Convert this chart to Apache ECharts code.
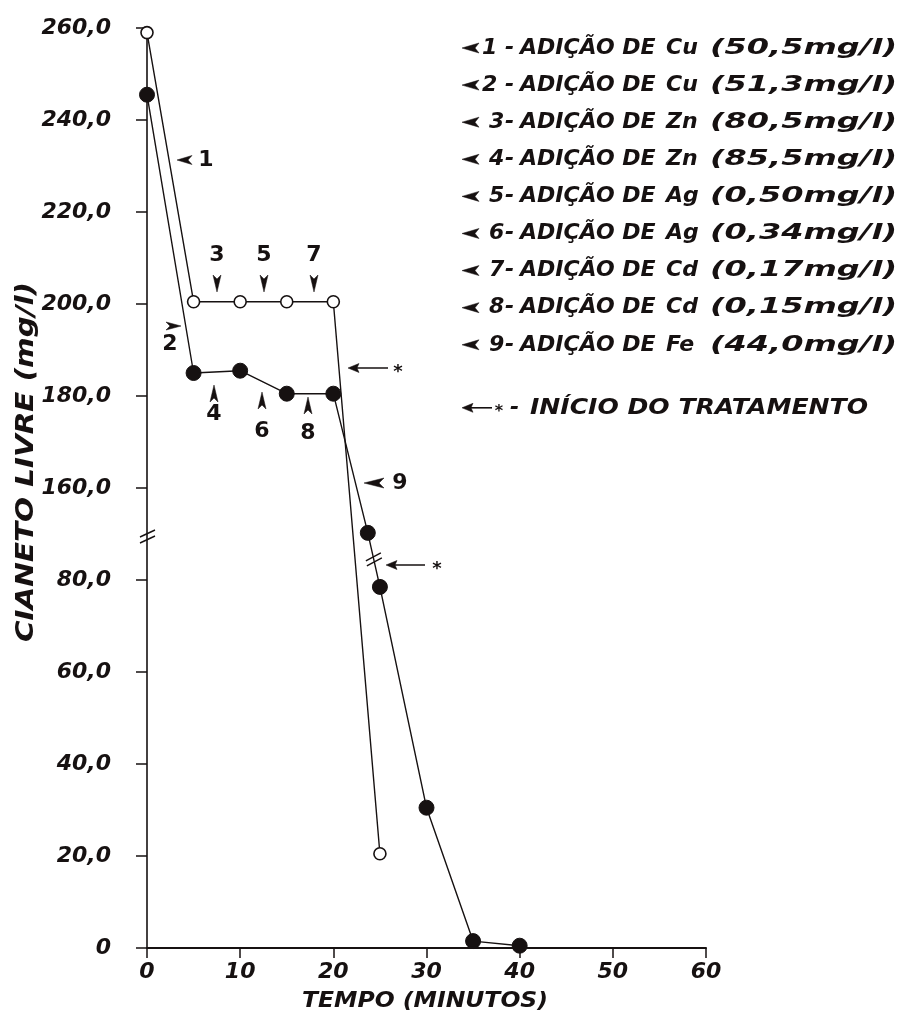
<!DOCTYPE html>
<html><head><meta charset="utf-8">
<script src="https://cdn.jsdelivr.net/npm/echarts@6/dist/echarts.min.js"></script>
<style>html,body{margin:0;padding:0;background:#fff}#c{width:904px;height:1028px}</style>
</head><body><div id="c"></div>
<script>
// ---- data ----
const timesOpen   = [0, 5, 10, 15, 20, 25];
const valsOpen    = [259, 200.5, 200.5, 200.5, 200.5, 20.5];
const timesFilled = [0, 5, 10, 15, 20, 23.7, 25, 30, 35, 40];
const valsFilled  = [245.5, 185, 185.5, 180.5, 180.5, 121, 78.5, 30.5, 1.5, 0.5];
const yTickLabels = ['0','20,0','40,0','60,0','80,0','160,0','180,0','200,0','220,0','240,0','260,0'];
const legendNums  = ['1','2','3','4','5','6','7','8','9'];
const legendElems = ['Cu','Cu','Zn','Zn','Ag','Ag','Cd','Cd','Fe'];
const legendDoses = ['(50,5mg/l)','(51,3mg/l)','(80,5mg/l)','(85,5mg/l)','(0,50mg/l)','(0,34mg/l)','(0,17mg/l)','(0,15mg/l)','(44,0mg/l)'];

const INK = '#161111';
const FAM = '"DejaVu Sans", sans-serif';
// broken axis: 0..80 linear, 80..160 compressed, >=160 shifted
function toDisp(v){ if(v<=80) return v; if(v>=160) return v-60; return 80+(v-80)/4; }

const chart = echarts.init(document.getElementById('c'), null, {renderer:'canvas'});
const labStyle = {color:INK, fontFamily:FAM, fontWeight:'bold', fontStyle:'italic'};
chart.setOption({
  animation:false,
  backgroundColor:'#ffffff',
  grid:{left:147, top:28, right:198, bottom:80, containLabel:false, outerBoundsMode:'none'},
  xAxis:{type:'value', min:0, max:60, interval:10,
    axisLine:{show:true, onZero:false, lineStyle:{color:INK, width:2}},
    axisTick:{show:true, inside:false, length:10, lineStyle:{color:INK, width:1.5}},
    axisLabel:Object.assign({margin:13, fontSize:22}, labStyle),
    splitLine:{show:false}},
  yAxis:{type:'value', min:0, max:200, interval:20,
    axisLine:{show:true, onZero:false, lineStyle:{color:INK, width:1.6}},
    axisTick:{show:true, inside:false, length:11, lineStyle:{color:INK, width:1.5}},
    axisLabel:Object.assign({margin:36, fontSize:22, formatter:v=>yTickLabels[Math.round(v/20)]}, labStyle),
    splitLine:{show:false}},
  series:[
    {type:'line', name:'open', data:timesOpen.map((t,i)=>[t,toDisp(valsOpen[i])]),
     symbol:'circle', symbolSize:12, z:3,
     lineStyle:{color:INK, width:1.4},
     itemStyle:{color:'#ffffff', borderColor:INK, borderWidth:1.6}},
    {type:'line', name:'filled', data:timesFilled.map((t,i)=>[t,toDisp(valsFilled[i])]),
     symbol:'circle', symbolSize:15, z:4,
     lineStyle:{color:INK, width:1.4},
     itemStyle:{color:INK, borderColor:INK, borderWidth:1}}
  ]
});

// ---- annotations ----
const P = (t,v)=>chart.convertToPixel({gridIndex:0},[t,toDisp(v)]);
const G = [];
function dart(tx,ty,dir,L,h,n){
  const loc=[[0,0],[L,-h],[L-n,0],[L,h]];
  const pts=loc.map(([x,y])=>{
    if(dir==='left') return [tx+x,ty+y];
    if(dir==='right') return [tx-x,ty+y];
    if(dir==='down') return [tx+y,ty-x];
    return [tx+y,ty+x];
  });
  G.push({type:'polygon', shape:{points:pts}, style:{fill:INK, stroke:INK, lineWidth:0.5}, z:10});
}
function txt(s,x,y,size,opt){
  opt=opt||{};
  const f=(opt.italic===false?'':'italic ')+'bold '+size+'px '+FAM;
  const el={type:'text', x:x, y:y, z:10,
    style:{text:s, fill:INK, font:f, align:opt.align||'center', textAlign:opt.align||'center',
      verticalAlign:'middle', textVerticalAlign:'middle'}};
  if(opt.scaleX) el.scaleX=opt.scaleX;
  if(opt.rotation) el.rotation=opt.rotation;
  G.push(el);
}
function line(x1,y1,x2,y2,w){
  G.push({type:'line', shape:{x1,y1,x2,y2}, style:{stroke:INK, lineWidth:w||1.5}, z:10});
}
const cv=document.createElement('canvas').getContext('2d');
function measure(s,size,italic){ cv.font=(italic===false?'':'italic ')+'bold '+size+'px '+FAM; return cv.measureText(s).width; }

// break marks (axis and curve)
const yb = P(0,120)[1];
const ax = P(0,0)[0];
line(ax-7, yb+3, ax+8, yb-4, 1.4);
line(ax-7, yb+9, ax+8, yb+2, 1.4);
const pA=P(timesFilled[5],valsFilled[5]), pB=P(timesFilled[6],valsFilled[6]);
const mx=(pA[0]+pB[0])/2, my=(pA[1]+pB[1])/2;
line(mx-8, my+1, mx+7, my-7, 1.4);
line(mx-7, my+6, mx+8, my-2, 1.4);

// on-chart labels
dart(177,160,'left',15,4.5,4); txt('1',206,160,22,{italic:false});
dart(181,326,'right',15,4,4); txt('2',170,344,22,{italic:false});
dart(217,292,'down',17,4,4); txt('3',217,255,22,{italic:false});
dart(264,292,'down',17,4,4); txt('5',264,255,22,{italic:false});
dart(314,292,'down',17,4,4); txt('7',314,255,22,{italic:false});
dart(214,385,'up',17,4,4); txt('4',214,414,22,{italic:false});
dart(262,392,'up',17,4,4); txt('6',262,431,22,{italic:false});
dart(308,397,'up',17,4,4); txt('8',308,433,22,{italic:false});
dart(348,368,'left',11,4.5,2); line(356,368,388,368,1.5); txt('*',398,372,18,{italic:false});
dart(364,483,'left',20,5,5); txt('9',400,483,22,{italic:false});
dart(386,565,'left',11,4.5,2); line(394,565,425,565,1.5); txt('*',437,569,18,{italic:false});

// legend block
const LY0=48, LDY=37.1, LFS=22;
for(let i=0;i<legendNums.length;i++){
  const y=LY0+i*LDY;
  dart(462,y,'left',17,5,4);
  txt(legendNums[i], i<2?482:489, y, LFS, {align:'left'});
  txt('-', 505, y, LFS, {align:'left'});
  txt('ADIÇÃO DE', 520, y, LFS, {align:'left'});
  txt(legendElems[i], 666, y, LFS, {align:'left'});
  const w=measure(legendDoses[i],LFS);
  txt(legendDoses[i], 710, y, LFS, {align:'left', scaleX:(897-710)/w});
}
const iy=LY0+8*LDY+63;
dart(462,iy,'left',11,4.5,2); line(470,iy,492,iy,1.6);
txt('*',499,iy+4,16,{italic:false}); txt('-',510,iy,LFS,{align:'left'});
{ const s='INÍCIO DO TRATAMENTO'; const w=measure(s,LFS); txt(s,530,iy,LFS,{align:'left',scaleX:(868-530)/w}); }

// axis titles
{ const s='CIANETO LIVRE (mg/l)'; const w=measure(s,24); txt(s,27,462,24,{rotation:Math.PI/2, scaleX:360/w}); }
{ const s='TEMPO (MINUTOS)'; const w=measure(s,22); txt(s,425,1001,22,{scaleX:246/w}); }

chart.setOption({graphic:{elements:G}});
</script></body></html>
